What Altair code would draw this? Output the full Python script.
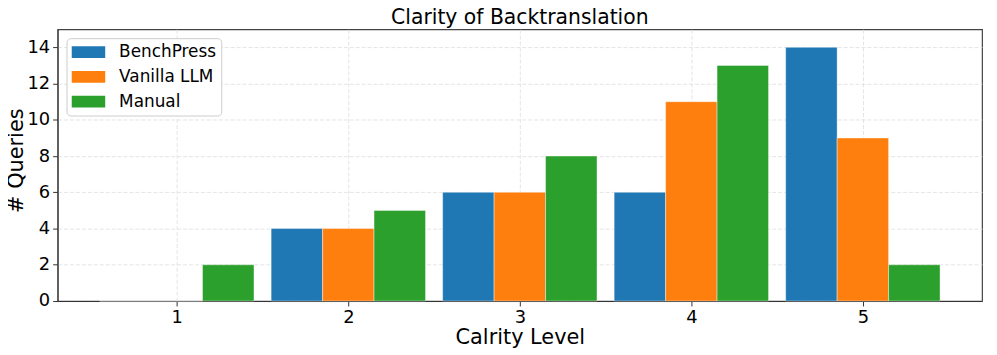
import altair as alt
import pandas as pd

categories = [1, 2, 3, 4, 5]
series_names = ["BenchPress", "Vanilla LLM", "Manual"]
benchpress = [0, 4, 6, 6, 14]
vanilla_llm = [0, 4, 6, 11, 9]
manual = [2, 5, 8, 13, 2]
colors = ["#1f77b4", "#ff7f0e", "#2ca02c"]

rows = []
for idx, (name, vals) in enumerate(zip(series_names, [benchpress, vanilla_llm, manual])):
    for c, v in zip(categories, vals):
        rows.append({"level": c, "series": name, "idx": idx, "count": v})
df = pd.DataFrame(rows)

FONT = "DejaVu Sans"

bars = (
    alt.Chart(df)
    .transform_calculate(
        x0="datum.level + (datum.idx - 1) * 0.3 - 0.15",
        x1="datum.level + (datum.idx - 1) * 0.3 + 0.15",
    )
    .mark_bar(stroke="white", strokeWidth=0.8, strokeOpacity=0.5)
    .encode(
        x=alt.X(
            "x0:Q",
            scale=alt.Scale(domain=[0.305, 5.695], nice=False, zero=False),
            axis=alt.Axis(
                values=categories,
                format="d",
                title="Calrity Level",
                titleFontSize=21,
                titleFontWeight="normal",
                titleY=42.5,
                titleBaseline="alphabetic",
                labelFontSize=18,
                labelPadding=3,
                tickSize=5,
                grid=True,
            ),
        ),
        x2="x1:Q",
        y=alt.Y(
            "count:Q",
            scale=alt.Scale(domain=[0, 15], nice=False),
            axis=alt.Axis(
                values=[0, 2, 4, 6, 8, 10, 12, 14],
                title="# Queries",
                titleFontSize=21,
                titleFontWeight="normal",
                titleX=-35.5,
                titleY=132,
                titleAngle=-90,
                titleAlign="center",
                titleBaseline="alphabetic",
                labelFontSize=18,
                labelPadding=3,
                tickSize=5,
                grid=True,
            ),
        ),
        y2=alt.datum(0),
        color=alt.Color(
            "series:N",
            scale=alt.Scale(domain=series_names, range=colors),
            sort=series_names,
            legend=alt.Legend(
                title=None,
                orient="none",
                legendX=9,
                legendY=9,
                labelFontSize=17,
                symbolType="M-1,-0.35L1,-0.35L1,0.35L-1,0.35Z",
                symbolSize=1156,
                symbolStrokeWidth=0,
                symbolOpacity=1,
                clipHeight=18,
                labelOffset=14,
                rowPadding=7,
                padding=5,
                fillColor="white",
                strokeColor="#cccccc",
                cornerRadius=4,
            ),
        ),
    )
)

chart = (
    bars.properties(
        width=932,
        height=274,
        title=alt.TitleParams(
            "Clarity of Backtranslation",
            fontSize=20.5,
            fontWeight="normal",
            anchor="middle",
            frame="group",
            baseline="alphabetic",
            offset=4,
            dy=19,
            font=FONT,
        ),
        autosize=alt.AutoSizeParams(type="none"),
        padding={"left": 50, "top": 20, "right": 7, "bottom": 53},
    )
    .configure(font=FONT)
    .configure_axis(
        labelFont=FONT,
        titleFont=FONT,
        labelColor="black",
        titleColor="black",
        domainColor="#333333",
        tickColor="#333333",
        gridColor="#dddddd",
        gridDash=[4, 2],
        gridWidth=0.8,
    )
    .configure_legend(labelFont=FONT, labelColor="black")
    .configure_view(stroke="#444444", strokeWidth=1.2)
)

chart.save("out.html", embed_options={"renderer": "svg", "actions": False})
